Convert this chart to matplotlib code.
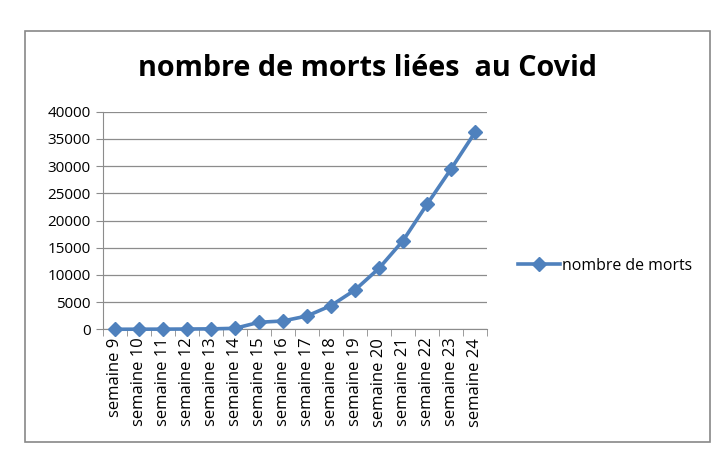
import matplotlib

matplotlib.use("Agg")
import matplotlib.pyplot as plt
from matplotlib.patches import Rectangle

# weekly cumulative Covid deaths
SEMAINES = [f"semaine {n}" for n in range(9, 25)]
MORTS = [10, 20, 30, 50, 80, 180, 1290, 1530, 2450, 4350, 7230, 11210,
         16290, 22970, 29460, 36200]
Y_TICKS = list(range(0, 40001, 5000))

BLUE = "#4f81bd"
GRID = "#8c8c8c"

plt.rcParams["font.family"] = ["Open Sans", "DejaVu Sans"]

fig = plt.figure(figsize=(7.2, 4.51), dpi=100)
fig.patches.append(Rectangle((25 / 720, 1 - 442 / 451), 685 / 720, 411 / 451,
                             transform=fig.transFigure, fill=False,
                             edgecolor="#888888", lw=1.2))

ax = fig.add_axes([103 / 720, 1 - 329.3 / 451, 384 / 720, 217.6 / 451])
x = list(range(len(SEMAINES)))
ax.plot(x, MORTS, "-D", color=BLUE, lw=2.6, ms=7.5, label="nombre de morts",
        clip_on=False, zorder=3)

ax.set_xlim(-0.5, len(SEMAINES) - 0.5)
ax.set_ylim(0, 40000)
ax.set_yticks(Y_TICKS)
ax.set_yticklabels([str(v) for v in Y_TICKS], fontsize=11)
ax.yaxis.grid(True, color=GRID, lw=0.9)
ax.set_axisbelow(True)

ax.set_xticks(x)
ax.set_xticklabels(SEMAINES, rotation=90, fontsize=12)
ax.tick_params(axis="x", length=0, pad=6)
ax.set_xticks([i - 0.5 for i in range(len(SEMAINES) + 1)], minor=True)
ax.tick_params(axis="x", which="minor", length=5, color=GRID, direction="out")
ax.tick_params(axis="y", length=5, color=GRID, direction="out", pad=4)

for s in ("top", "right"):
    ax.spines[s].set_visible(False)
ax.spines["left"].set_color(GRID)
ax.spines["bottom"].set_color(GRID)

fig.text(368 / 720, 1 - 68 / 451, "nombre de morts liées  au Covid",
         ha="center", va="center", fontsize=20.7, fontweight="bold")

fig.legend(loc="center left", bbox_to_anchor=(512 / 720, 1 - 266 / 451),
           frameon=False, fontsize=11.4, handlelength=2.6, handletextpad=0.15,
           borderaxespad=0)

fig.savefig("out.png", dpi=100)
